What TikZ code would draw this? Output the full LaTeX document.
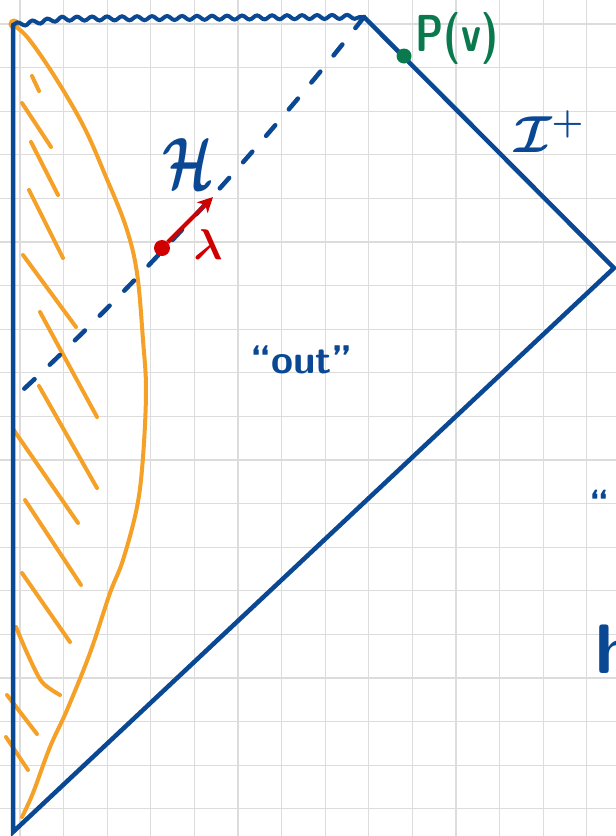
\RequirePackage{fix-cm}
\documentclass[tikz,border=0pt]{standalone}
\usepackage{xcolor}
\usepackage{tikz}
\usetikzlibrary{arrows,arrows.meta,decorations.pathmorphing,calc}
\tikzset{>=stealth'}
\definecolor{penblue}{HTML}{0A4893}
\definecolor{penorange}{HTML}{F5A027}
\definecolor{penred}{HTML}{D00000}
\definecolor{pengreen}{HTML}{0A7A4E}
\definecolor{gridgray}{HTML}{DCDCDC}
\tikzset{
  bluepen/.style={penblue,line width=4.5pt,line cap=round},
  wall/.style={penorange,line width=4pt,line cap=round,line join=round},
  horizon/.style={penblue,line width=4.5pt,line cap=round,dash pattern=on 14pt off 21pt},
  blob/.style={circle,inner sep=0pt,minimum size=#1},
}
\newcommand{\hand}[1]{\fontsize{#1}{#1}\selectfont\sffamily\bfseries\boldmath}
\newcommand{\gridpaper}{%
  \fill[white] (0,0) rectangle (616,836);
  \foreach \i in {0,...,13}
    \draw[gridgray,line width=1.3pt] ({20+43.6*\i},0) -- ({20+43.6*\i},836);
  \foreach \j in {0,...,18}
    \draw[gridgray,line width=1.3pt] (0,{24+43.6*\j}) -- (616,{24+43.6*\j});
}
\newcommand{\corners}{%
  \coordinate (tl) at (13,25);
  \coordinate (bot) at (13,832);
  \coordinate (tip) at (614,268);
  \coordinate (top) at (364,17);
  \coordinate (hfoot) at (13,399);
}
\newcommand{\wallcurve}{%
  \draw[wall] (14,24) circle (3.5);
  \draw[wall] plot[smooth,tension=0.6] coordinates {(13,25) (28,38) (55,77) (84,127)
    (106,177) (126,227) (137,273) (143,340) (146,390) (143,457) (137,507) (123,560)
    (110,593) (90,653) (67,710) (50,747) (33,793) (22,817)};
}
\newcommand{\hatches}{%
  \foreach \a/\b in {{32,76}/{39,91}, {22,103}/{51,147}, {31,142}/{58,195},
      {29,190}/{63,258}, {23,255}/{76,327}, {40,312}/{97,417}, {39,386}/{97,488},
      {13,429}/{78,523}, {25,500}/{81,585}, {22,573}/{70,642}, {7,695}/{37,734},
      {6,737}/{28,770}}
    \draw[wall] (\a) -- (\b);
  \draw[wall] plot[smooth] coordinates {(16,627) (28,655) (42,682) (60,695)};
}
\newcommand{\penrose}{%
  \draw[bluepen] (tl) -- (bot) -- (tip) -- (top);
  \draw[penblue,line width=4pt,line cap=round,decorate,
    decoration={snake,amplitude=2pt,segment length=15pt}]
    (tl) -- (60,19) -- (top);
  \draw[horizon] (top) .. controls (278,128) and (135,288) .. (hfoot);
}

\begin{document}
\begin{tikzpicture}[x=1pt,y=-1pt]
\useasboundingbox (0,0) rectangle (616,836);
\clip (0,0) rectangle (616,836);
\gridpaper \corners \wallcurve \hatches \penrose
% labels
\node[blob=16pt,fill=penred] (lamdot) at (162,248) {};
\node[blob=15pt,fill=pengreen] (pdot) at (404,56) {};
\coordinate (lamtip) at (213,197);
\draw[-{Stealth[length=15pt,width=15pt,inset=4pt]},penred,line width=4pt] (lamdot) -- (lamtip);
\node[pengreen,inner sep=0pt,font=\hand{40}] (Pv) at (457,38) {\scalebox{1}[1.3]{P(v)}};
\node[penblue,inner sep=0pt,font=\hand{52}] (scri) at (549,132) {$\mathcal{I}^{+}$};
\node[penblue,inner sep=0pt,font=\hand{52}] (hor) at (188,164) {\scalebox{1}[1.4]{$\mathcal{H}$}};
\node[penred,inner sep=0pt,font=\hand{43}] (lam) at (208,245) {$\lambda$};
\node[penblue,inner sep=0pt,anchor=base west,font=\hand{40}] (out) at (250,373) {``out''};
\node[penblue,inner sep=0pt,anchor=base west,font=\hand{38}] (inq) at (589,516) {``};
\node[penblue,inner sep=0pt,anchor=base west,font=\hand{70}] (hcut) at (595,673) {h};
\end{tikzpicture}
\end{document}
